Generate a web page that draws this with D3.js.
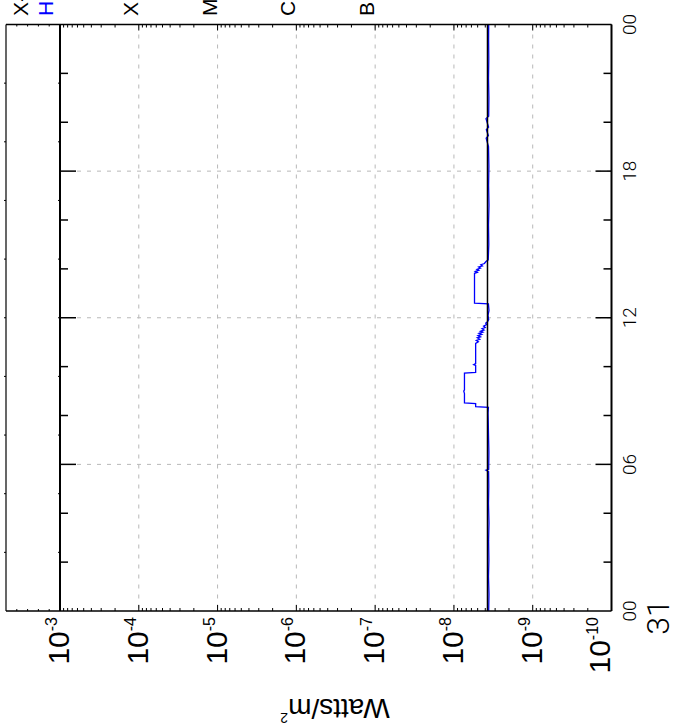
<!DOCTYPE html>
<html><head><meta charset="utf-8">
<script src="https://cdn.jsdelivr.net/npm/d3@7"></script>
<style>body{margin:0;background:#fff}svg{display:block}</style>
</head><body>
<script>
// ---- data ----
const hourTicks = [0, 6, 12, 18, 24];
const hourLabels = ["00", "06", "12", "18", "00"];
const minorHourTicks = [2, 4, 8, 10, 14, 16, 20, 22];
const dayLabel = "31";
const decadeTicks = [1e-3, 1e-4, 1e-5, 1e-6, 1e-7, 1e-8, 1e-9, 1e-10];
const decadeExponents = ["-3", "-4", "-5", "-6", "-7", "-8", "-9", "-10"];
const classLabels = ["X", "M", "C", "B"];
const classLevels = [1e-4, 1e-5, 1e-6, 1e-7];
const legendLabels = ["X-", "H-"];
const legendColors = ["#000000", "#0000ff"];
const yTitle = "Watts/m";
const yTitleSup = "2";

const blueHours = [0.00,0.70,1.40,2.10,2.90,3.60,4.40,5.10,5.70,5.76,5.80,6.50,7.20,7.80,8.10,8.33,
  8.36,8.49,8.52,8.90,9.00,9.05,9.73,9.76,10.05,10.08,10.12,10.95,11.02,11.07,11.12,11.18,11.22,11.27,11.32,
  11.36,11.41,11.45,11.50,11.55,11.60,11.66,11.72,11.78,11.85,11.92,12.10,12.30,12.57,12.60,13.82,13.86,13.90,13.94,13.98,
  14.03,14.08,14.12,14.17,14.22,14.30,14.37,15.00,15.80,16.60,17.40,18.20,19.00,19.35,19.45,19.70,19.80,
  20.15,20.25,21.00,21.80,22.60,23.40,24.00];
const blueFlux = [3.62e-9,3.59e-9,3.64e-9,3.60e-9,3.63e-9,3.59e-9,3.64e-9,3.61e-9,3.63e-9,3.92e-9,3.62e-9,3.60e-9,3.64e-9,3.67e-9,3.69e-9,3.65e-9,
  5.30e-9,5.30e-9,7.35e-9,7.35e-9,7.50e-9,7.35e-9,7.35e-9,5.30e-9,5.30e-9,5.60e-9,5.30e-9,5.30e-9,4.90e-9,5.20e-9,4.70e-9,5.05e-9,4.60e-9,4.95e-9,4.45e-9,
  4.80e-9,4.30e-9,4.60e-9,4.15e-9,4.40e-9,4.00e-9,4.20e-9,3.85e-9,3.95e-9,3.72e-9,3.62e-9,3.69e-9,3.59e-9,3.65e-9,5.48e-9,5.48e-9,5.05e-9,5.35e-9,4.85e-9,5.10e-9,
  4.60e-9,4.85e-9,4.35e-9,4.55e-9,4.10e-9,3.92e-9,3.67e-9,3.61e-9,3.64e-9,3.59e-9,3.63e-9,3.60e-9,3.64e-9,3.90e-9,3.65e-9,3.88e-9,3.63e-9,
  3.92e-9,3.62e-9,3.60e-9,3.64e-9,3.61e-9,3.63e-9,3.62e-9];
const blackHours = [0, 24];
const blackFlux = [3.75e-9, 3.75e-9];

// ---- layout ----
const W = 678, H = 728;
const L = 60, R = 611.5, T = 24.5, B = 611, STRIP = 6;
const svg = d3.select("body").append("svg").attr("width", W).attr("height", H);

const x = d3.scaleLog().domain([1e-3, 1e-10]).range([L, R]);
const y = d3.scaleLinear().domain([0, 24]).range([B, T]);
const xs = d3.scaleLinear().domain([0, 5]).range([STRIP, L]);
const ys = d3.scaleLinear().domain([0, 10]).range([B, T]);

const sans = "'Liberation Sans', Arial, Helvetica, sans-serif";
const light = "Roboto, 'Liberation Sans', sans-serif";

// grid
const grid = svg.append("g").attr("stroke", "#b8b8b8").attr("stroke-width", 1).attr("stroke-dasharray", "4,6");
grid.selectAll("line.v").data(decadeTicks.slice(1, 7)).join("line")
  .attr("x1", d => x(d)).attr("x2", d => x(d)).attr("y1", T).attr("y2", B);
grid.selectAll("line.h").data([6, 12, 18]).join("line")
  .attr("x1", L + 17).attr("x2", R).attr("y1", d => y(d)).attr("y2", d => y(d));

// log minor ticks on top and bottom
const minors = [];
for (let e = -10; e < -3; e++) for (let k = 2; k <= 9; k++) minors.push(k * Math.pow(10, e));
const tk = svg.append("g").attr("stroke", "#000").attr("stroke-width", 1);
tk.selectAll("line.mt").data(minors).join("line").attr("x1", d => x(d)).attr("x2", d => x(d)).attr("y1", T).attr("y2", T + 3);
tk.selectAll("line.mb").data(minors).join("line").attr("x1", d => x(d)).attr("x2", d => x(d)).attr("y1", B).attr("y2", B - 3);
tk.selectAll("line.dt").data(decadeTicks).join("line").attr("x1", d => x(d)).attr("x2", d => x(d)).attr("y1", T).attr("y2", T + 6);
tk.selectAll("line.db").data(decadeTicks).join("line").attr("x1", d => x(d)).attr("x2", d => x(d)).attr("y1", B).attr("y2", B - 6);
// strip ticks
tk.selectAll("line.st").data([1, 2, 3, 4]).join("line").attr("x1", d => xs(d)).attr("x2", d => xs(d)).attr("y1", T).attr("y2", T + 2);
tk.selectAll("line.sb").data([1, 2, 3, 4]).join("line").attr("x1", d => xs(d)).attr("x2", d => xs(d)).attr("y1", B).attr("y2", B - 2);
const div = d3.range(1, 10);
tk.selectAll("line.sl").data(div).join("line").attr("x1", STRIP).attr("x2", STRIP - 2).attr("y1", d => ys(d)).attr("y2", d => ys(d));
tk.selectAll("line.sl2").data(div).join("line").attr("x1", L).attr("x2", L - 2).attr("y1", d => ys(d)).attr("y2", d => ys(d));
// hour ticks
tk.selectAll("line.hl").data(minorHourTicks).join("line").attr("x1", L).attr("x2", L + 8).attr("y1", d => y(d)).attr("y2", d => y(d)).attr("stroke-width", 1.5);
tk.selectAll("line.hr").data(minorHourTicks).join("line").attr("x1", R).attr("x2", R - 8).attr("y1", d => y(d)).attr("y2", d => y(d)).attr("stroke-width", 1.5);
tk.selectAll("line.Hl").data([6, 12, 18]).join("line").attr("x1", L).attr("x2", L + 16).attr("y1", d => y(d)).attr("y2", d => y(d)).attr("stroke-width", 1.5);
tk.selectAll("line.Hr").data([6, 12, 18]).join("line").attr("x1", R).attr("x2", R - 16).attr("y1", d => y(d)).attr("y2", d => y(d)).attr("stroke-width", 1.5);

// data lines
const line = d3.line().x(d => x(d[1])).y(d => y(d[0]));
svg.append("path").datum(blueHours.map((h, i) => [h, blueFlux[i]]))
  .attr("d", line).attr("fill", "none").attr("stroke", "#0000ff").attr("stroke-width", 1.3);
svg.append("path").datum(blackHours.map((h, i) => [h, blackFlux[i]]))
  .attr("d", line).attr("fill", "none").attr("stroke", "#000").attr("stroke-width", 1.5);

// frame
const fr = svg.append("g").attr("stroke", "#000").attr("fill", "none");
fr.append("line").attr("x1", STRIP).attr("x2", R).attr("y1", T).attr("y2", T).attr("stroke-width", 1.5);
fr.append("line").attr("x1", STRIP).attr("x2", R).attr("y1", B).attr("y2", B).attr("stroke-width", 1.5);
fr.append("line").attr("x1", STRIP).attr("x2", STRIP).attr("y1", T).attr("y2", B).attr("stroke-width", 1.2);
fr.append("line").attr("x1", L).attr("x2", L).attr("y1", T).attr("y2", B).attr("stroke-width", 2);
fr.append("line").attr("x1", R).attr("x2", R).attr("y1", T).attr("y2", B).attr("stroke-width", 2);

// hour labels (rotated)
const hl = svg.append("g").attr("font-family", light).attr("font-weight", 300).attr("fill", "#000");
hourTicks.forEach((h, i) => {
  const yy = y(h), xx = 636;
  hl.append("text").attr("x", xx).attr("y", yy).attr("transform", `rotate(-90,${xx},${yy})`)
    .attr("text-anchor", "middle").attr("font-size", 19).text(hourLabels[i]);
});
const dx = 669, dy = y(0) + 6;
hl.append("text").attr("x", dx).attr("y", dy).attr("transform", `rotate(-90,${dx},${dy})`)
  .attr("text-anchor", "middle").attr("font-size", 32).text(dayLabel);

// decade labels
const dl = svg.append("g").attr("font-family", sans).attr("fill", "#000");
decadeTicks.forEach((v, i) => {
  const xx = Math.min(x(v) + 9, 610), yy = 617;
  const t = dl.append("text").attr("x", xx).attr("y", yy).attr("transform", `rotate(-90,${xx},${yy})`).attr("text-anchor", "end");
  t.append("tspan").attr("font-size", 30).text("10");
  t.append("tspan").attr("font-size", 16).attr("dy", -12).text(decadeExponents[i]);
});

// y title, rotated 180
const tx = 335, ty = 699;
const tt = svg.append("text").attr("x", tx).attr("y", ty).attr("transform", `rotate(180,${tx},${ty})`)
  .attr("text-anchor", "middle").attr("font-family", sans).attr("font-size", 28).attr("fill", "#000");
tt.append("tspan").text(yTitle);
tt.append("tspan").attr("font-size", 14).attr("dy", -14).text(yTitleSup);

// class labels
const cl = svg.append("g").attr("font-family", sans).attr("font-size", 21);
classLevels.forEach((v, i) => {
  const xx = x(v) - 1, yy = 16;
  cl.append("text").attr("x", xx).attr("y", yy).attr("transform", `rotate(-90,${xx},${yy})`).text(classLabels[i]);
});
[28, 53].forEach((xx, i) => {
  cl.append("text").attr("x", xx).attr("y", 16).attr("transform", `rotate(-90,${xx},16)`)
    .attr("fill", legendColors[i]).text(legendLabels[i]);
});
</script>
</body></html>
